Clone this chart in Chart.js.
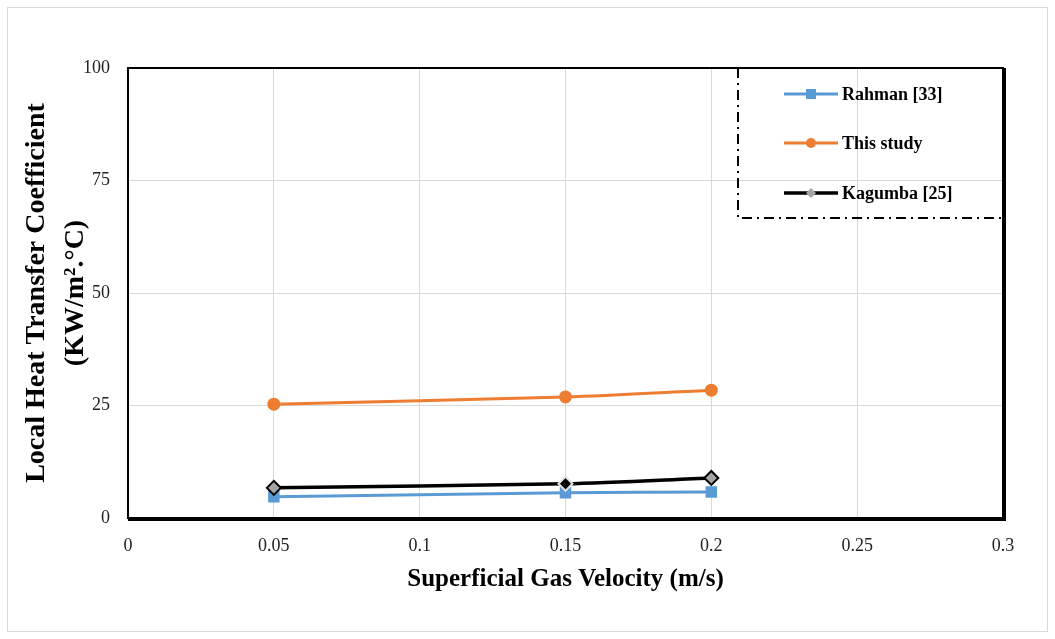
<!DOCTYPE html>
<html>
<head>
<meta charset="utf-8">
<script src="https://cdn.jsdelivr.net/npm/chart.js@4"></script>
<style>
  html, body { margin: 0; padding: 0; background: #fff; }
  #wrap { width: 1055px; height: 639px; }
</style>
</head>
<body>
<div id="wrap"><canvas id="htcChart" width="1055" height="639"></canvas></div>
<script>
// 数据
const velocities = [0.05, 0.15, 0.2];
const rahman = [4.7, 5.6, 5.8];
const thisStudy = [25.3, 26.9, 28.4];
const kagumba = [6.7, 7.6, 8.9];
const seriesNames = ['Rahman [33]', 'This study', 'Kagumba [25]'];

const SERIF = '"Liberation Serif", "Times New Roman", serif';

// 外框 + 白底
const backgroundPlugin = {
    id: 'backgroundPlugin',
    beforeDraw(chart) {
        const ctx = chart.ctx;
        ctx.save();
        ctx.fillStyle = '#fff';
        ctx.fillRect(0, 0, chart.width, chart.height);
        ctx.strokeStyle = '#d9d9d9';
        ctx.lineWidth = 1;
        ctx.strokeRect(7.5, 7.5, chart.width - 15, chart.height - 15);
        ctx.restore();
    }
};

// 绘图区黑框
const framePlugin = {
    id: 'framePlugin',
    afterDatasetsDraw(chart) {
        const { left, top, right, bottom } = chart.chartArea;
        const ctx = chart.ctx;
        ctx.save();
        ctx.strokeStyle = '#000';
        ctx.lineWidth = 2;
        ctx.strokeRect(left, top, right - left, bottom - top);
        ctx.beginPath();
        ctx.moveTo(right + 2, top);
        ctx.lineTo(right + 2, bottom + 2);
        ctx.lineTo(left, bottom + 2);
        ctx.stroke();
        ctx.restore();
    }
};

// 图例（点划线框）
const legendPlugin = {
    id: 'legendPlugin',
    afterDraw(chart) {
        const ctx = chart.ctx;
        const right = chart.chartArea.right;
        const top = chart.chartArea.top;
        const boxLeft = 738, boxBottom = 218;
        ctx.save();
        ctx.strokeStyle = '#000';
        ctx.lineWidth = 2;
        ctx.setLineDash([10, 5, 2, 5]);
        ctx.beginPath();
        ctx.moveTo(boxLeft, top);
        ctx.lineTo(boxLeft, boxBottom);
        ctx.lineTo(right, boxBottom);
        ctx.stroke();
        ctx.setLineDash([]);

        const rows = [94, 143, 193];
        chart.data.datasets.forEach((ds, i) => {
            const y = rows[i];
            ctx.strokeStyle = ds.borderColor;
            ctx.lineWidth = ds.borderWidth;
            ctx.beginPath();
            ctx.moveTo(784, y);
            ctx.lineTo(838, y);
            ctx.stroke();
            const bg = Array.isArray(ds.pointBackgroundColor) ? ds.pointBackgroundColor[0] : ds.pointBackgroundColor;
            ctx.fillStyle = bg;
            if (ds.pointStyle === 'rect') {
                ctx.fillRect(806, y - 5, 10, 10);
            } else if (ds.pointStyle === 'circle') {
                ctx.beginPath();
                ctx.arc(811, y, 5, 0, Math.PI * 2);
                ctx.fill();
            } else {
                ctx.beginPath();
                ctx.moveTo(811, y - 5);
                ctx.lineTo(816, y);
                ctx.lineTo(811, y + 5);
                ctx.lineTo(806, y);
                ctx.closePath();
                ctx.fill();
            }
            ctx.fillStyle = '#000';
            ctx.font = 'bold 18px ' + SERIF;
            ctx.textBaseline = 'middle';
            ctx.textAlign = 'left';
            ctx.fillText(ds.label, 842, y + 1);
        });
        ctx.restore();
    }
};

const ctx = document.getElementById('htcChart').getContext('2d');
new Chart(ctx, {
    type: 'line',
    data: {
        datasets: [{
            label: seriesNames[0],
            data: velocities.map((v, i) => ({ x: v, y: rahman[i] })),
            borderColor: '#5b9bd5',
            backgroundColor: '#5b9bd5',
            pointBackgroundColor: '#5b9bd5',
            pointBorderColor: '#5b9bd5',
            pointStyle: 'rect',
            pointRadius: 6,
            borderWidth: 3,
            tension: 0.3,
            order: 3
        }, {
            label: seriesNames[1],
            data: velocities.map((v, i) => ({ x: v, y: thisStudy[i] })),
            borderColor: '#ed7d31',
            backgroundColor: '#ed7d31',
            pointBackgroundColor: '#ed7d31',
            pointBorderColor: '#ed7d31',
            pointStyle: 'circle',
            pointRadius: 5,
            borderWidth: 3,
            tension: 0.3,
            order: 1
        }, {
            label: seriesNames[2],
            data: velocities.map((v, i) => ({ x: v, y: kagumba[i] })),
            borderColor: '#000',
            backgroundColor: '#000',
            pointBackgroundColor: ['#a5a5a5', '#000', '#a5a5a5'],
            pointBorderColor: ['#000', '#e0e0e0', '#000'],
            pointBorderWidth: 2,
            pointStyle: 'rectRot',
            pointRadius: 7,
            borderWidth: 3.5,
            tension: 0.3,
            order: 2
        }]
    },
    options: {
        responsive: false,
        animation: false,
        layout: { padding: { top: 68, right: 52, left: 17, bottom: 44 } },
        plugins: {
            legend: { display: false },
            tooltip: { enabled: false }
        },
        scales: {
            x: {
                type: 'linear',
                min: 0,
                max: 0.3,
                ticks: {
                    stepSize: 0.05,
                    color: '#222',
                    font: { family: SERIF, size: 18 },
                    padding: 17,
                    callback: v => String(Number(v.toFixed(2)))
                },
                grid: { color: '#d9d9d9', lineWidth: 1, drawTicks: false },
                border: { display: false },
                title: {
                    display: true,
                    text: 'Superficial Gas Velocity (m/s)',
                    color: '#000',
                    font: { family: SERIF, size: 25, weight: 'bold' },
                    padding: { top: 10, bottom: 0 }
                },
                afterFit(scale) { scale.height = 639 - 518 - 44; }
            },
            y: {
                min: 0,
                max: 100,
                ticks: {
                    stepSize: 25,
                    color: '#222',
                    font: { family: SERIF, size: 18 },
                    padding: 18
                },
                grid: { color: '#d9d9d9', lineWidth: 1, drawTicks: false },
                border: { display: false },
                title: {
                    display: true,
                    text: ['Local Heat Transfer Coefficient', '(KW/m\u00B2.\u00B0C)'],
                    color: '#000',
                    font: { family: SERIF, size: 28, weight: 'bold', lineHeight: 1.4 },
                    padding: { top: 0, bottom: 4 }
                },
                afterFit(scale) { scale.width = 128 - 17; }
            }
        }
    },
    plugins: [backgroundPlugin, framePlugin, legendPlugin]
});
</script>
</body>
</html>
